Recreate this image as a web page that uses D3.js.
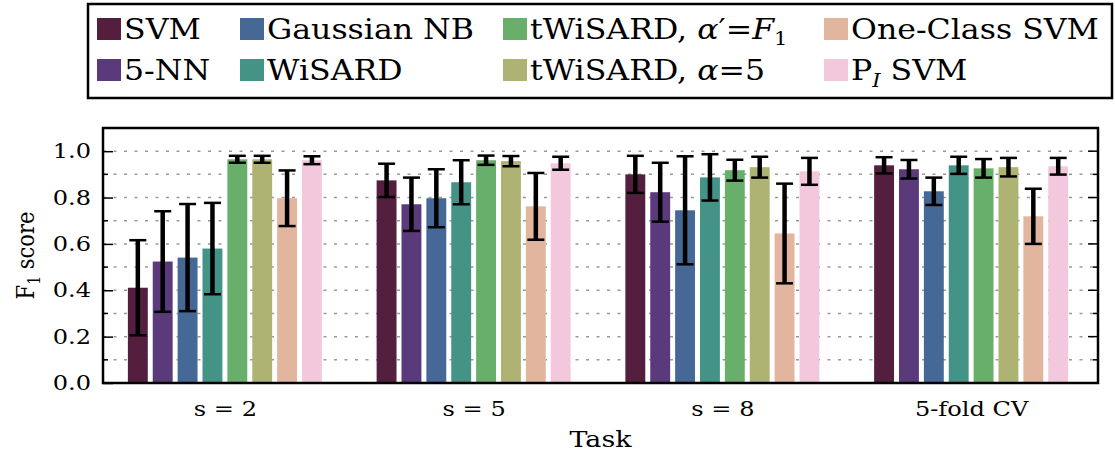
<!DOCTYPE html>
<html>
<head>
<meta charset="utf-8">
<script src="https://cdn.jsdelivr.net/npm/d3@7"></script>
<style>
body { margin: 0; background: #fff; }
text { font-family: "DejaVu Serif", serif; fill: #000; }
</style>
</head>
<body>
<svg width="1115" height="454"></svg>
<script>
// data
let tasks = ["s = 2", "s = 5", "s = 8", "5-fold CV"]
let methods = ["SVM", "5-NN", "Gaussian NB", "WiSARD", "tWiSARD F1", "tWiSARD a5", "One-Class SVM", "PI SVM"]
let colors = ["#541e3e", "#5a3a7a", "#466896", "#449387", "#69af6c", "#aeb374", "#e2b59f", "#f3c8dd"]

// one array per method, one value per task
let svmMean = [0.411, 0.874, 0.900, 0.939]
let knnMean = [0.524, 0.771, 0.823, 0.922]
let gnbMean = [0.541, 0.797, 0.745, 0.827]
let wisMean = [0.580, 0.866, 0.887, 0.939]
let twF1Mean = [0.965, 0.961, 0.918, 0.926]
let tw5Mean = [0.965, 0.957, 0.931, 0.931]
let ocMean = [0.797, 0.762, 0.645, 0.719]
let piMean = [0.961, 0.948, 0.913, 0.935]

let svmErr = [0.205, 0.072, 0.080, 0.035]
let knnErr = [0.217, 0.115, 0.127, 0.040]
let gnbErr = [0.231, 0.125, 0.233, 0.059]
let wisErr = [0.197, 0.095, 0.100, 0.037]
let twF1Err = [0.015, 0.020, 0.045, 0.040]
let tw5Err = [0.015, 0.022, 0.045, 0.040]
let ocErr = [0.120, 0.144, 0.215, 0.119]
let piErr = [0.017, 0.028, 0.058, 0.036]

let yTicks = [0, 0.2, 0.4, 0.6, 0.8, 1.0]

let means = [svmMean, knnMean, gnbMean, wisMean, twF1Mean, tw5Mean, ocMean, piMean]
let errs = [svmErr, knnErr, gnbErr, wisErr, twF1Err, tw5Err, ocErr, piErr]

let rows = []
tasks.forEach((t, i) => {
    methods.forEach((m, j) => {
        rows.push({ task: i, method: j, mean: means[j][i], err: errs[j][i] })
    })
})

let mLeft = 103, mRight = 1098, mTop = 128, mBottom = 383
let SX = 1.17 // the original text is a little wide, stretch it sideways
let svg = d3.select("svg")

let x = d3.scaleLinear().domain([-0.1, 3.9]).range([mLeft, mRight])
let y = d3.scaleLinear().domain([0, 1.1]).range([mBottom, mTop])
let barStep = 0.1, barW = 0.08

// dotted grid every 0.1
let gridVals = d3.range(1, 11).map(d => d / 10)
svg.append("g")
    .selectAll("line")
    .data(gridVals)
    .join("line")
    .attr("x1", mLeft).attr("x2", mRight)
    .attr("y1", d => y(d)).attr("y2", d => y(d))
    .style("stroke", "#9a9a9a")
    .style("stroke-width", 1.5)
    .style("stroke-dasharray", "3,7.5")

// bars
svg.append("g")
    .selectAll("rect")
    .data(rows)
    .join("rect")
    .attr("x", d => x(d.task + d.method * barStep))
    .attr("width", x(barW) - x(0))
    .attr("y", d => y(d.mean))
    .attr("height", d => y(0) - y(d.mean))
    .style("fill", d => colors[d.method])

// error bars
let eb = svg.append("g")
    .selectAll("g")
    .data(rows)
    .join("g")
    .attr("transform", d => "translate(" + x(d.task + d.method * barStep + barW / 2) + ",0)")

eb.append("line")
    .attr("y1", d => y(d.mean - d.err)).attr("y2", d => y(d.mean + d.err))
    .style("stroke", "#000").style("stroke-width", 4.5)
eb.selectAll(".cap")
    .data(d => [d.mean - d.err, d.mean + d.err])
    .join("line")
    .attr("class", "cap")
    .attr("x1", -8.5).attr("x2", 8.5)
    .attr("y1", d => y(d)).attr("y2", d => y(d))
    .style("stroke", "#000").style("stroke-width", 2.5)

// y axis (left) with inward ticks, plus mirrored right side
let yAxisL = d3.axisLeft(y).tickValues(yTicks).tickFormat(d3.format(".1f")).tickSizeInner(-10).tickSizeOuter(0).tickPadding(0)
let gy = svg.append("g").attr("transform", "translate(" + mLeft + ",0)").call(yAxisL)
gy.select(".domain").remove()
gy.selectAll("line").style("stroke", "#000").style("stroke-width", 1.5)
gy.selectAll("text")
    .attr("x", -12 / SX)
    .attr("transform", "scale(" + SX + ",1)")
    .style("font-family", "DejaVu Serif").style("font-size", "20.6px").style("fill", "#000")

let minorVals = [0.1, 0.3, 0.5, 0.7, 0.9]
svg.append("g").selectAll("line").data(minorVals).join("line")
    .attr("x1", mLeft).attr("x2", mLeft + 5)
    .attr("y1", d => y(d)).attr("y2", d => y(d))
    .style("stroke", "#000").style("stroke-width", 1.5)
svg.append("g").selectAll("line").data(yTicks).join("line")
    .attr("x1", mRight - 10).attr("x2", mRight)
    .attr("y1", d => y(d)).attr("y2", d => y(d))
    .style("stroke", "#000").style("stroke-width", 1.5)
svg.append("g").selectAll("line").data(minorVals).join("line")
    .attr("x1", mRight - 5).attr("x2", mRight)
    .attr("y1", d => y(d)).attr("y2", d => y(d))
    .style("stroke", "#000").style("stroke-width", 1.5)

// x tick labels at group centres
let xAxis = d3.axisBottom(x)
    .tickValues(tasks.map((t, i) => i + (7 * barStep + barW) / 2))
    .tickFormat((d, i) => tasks[i])
    .tickSize(0).tickPadding(18)
let gx = svg.append("g").attr("transform", "translate(0," + mBottom + ")").call(xAxis)
gx.select(".domain").remove()
gx.selectAll("text")
    .attr("transform", "scale(" + SX + ",1)")
    .style("font-family", "DejaVu Serif").style("font-size", "20.6px").style("fill", "#000")

// frame
svg.append("rect")
    .attr("x", mLeft).attr("y", mTop)
    .attr("width", mRight - mLeft).attr("height", mBottom - mTop)
    .style("fill", "none").style("stroke", "#000").style("stroke-width", 2.5)

// axis titles
svg.append("g")
    .attr("transform", "translate(" + (mLeft + mRight) / 2 + ",447) scale(" + SX + ",1)")
    .append("text")
    .attr("text-anchor", "middle")
    .style("font-size", "23px")
    .text("Task")

let yl = svg.append("g")
    .attr("transform", "translate(34," + (mTop + mBottom) / 2 + ") scale(" + SX + ",1) rotate(-90)")
    .append("text")
    .attr("text-anchor", "middle")
    .style("font-size", "21px")
yl.append("tspan").text("F")
yl.append("tspan").attr("dy", 5).style("font-size", "14px").text("1")
yl.append("tspan").attr("dy", -5).text(" score")

// legend
svg.append("rect")
    .attr("x", 88).attr("y", 4)
    .attr("width", 1024).attr("height", 94)
    .style("fill", "#fff").style("stroke", "#000").style("stroke-width", 2.5)

let colX = [97, 240, 503, 824]
let rowY = [29, 70]
let lg = svg.append("g")
    .selectAll("g")
    .data(methods)
    .join("g")
    .attr("transform", (d, i) => "translate(" + colX[Math.floor(i / 2)] + "," + rowY[i % 2] + ")")

lg.append("rect")
    .attr("x", 0).attr("y", -11)
    .attr("width", 24).attr("height", 22)
    .style("fill", (d, i) => colors[i])

let lt = lg.append("g")
    .attr("transform", "translate(27,10) scale(" + SX + ",1)")
    .append("text")
    .style("font-size", "27px")

lt.each(function (d) {
    let t = d3.select(this)
    if (d == "tWiSARD F1") {
        t.append("tspan").text("tWiSARD, ")
        t.append("tspan").style("font-style", "italic").text("α")
        t.append("tspan").text("′=")
        t.append("tspan").style("font-style", "italic").text("F")
        t.append("tspan").attr("dy", 6).style("font-size", "18px").text("1")
    } else if (d == "tWiSARD a5") {
        t.append("tspan").text("tWiSARD, ")
        t.append("tspan").style("font-style", "italic").text("α")
        t.append("tspan").text("=5")
    } else if (d == "PI SVM") {
        t.append("tspan").text("P")
        t.append("tspan").attr("dy", 7).style("font-size", "18px").style("font-style", "italic").text("I")
        t.append("tspan").attr("dy", -7).text(" SVM")
    } else {
        t.text(d)
    }
})
</script>
</body>
</html>
